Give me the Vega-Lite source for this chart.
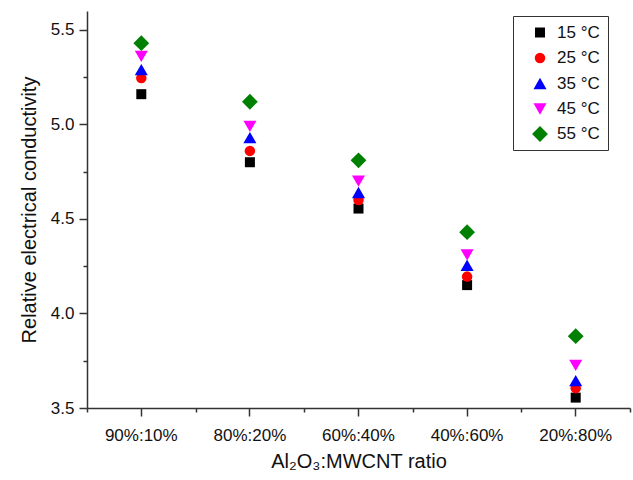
{
  "$schema": "https://vega.github.io/schema/vega-lite/v6.json",
  "width": 543,
  "height": 397,
  "autosize": "none",
  "padding": {"left": 87, "top": 11, "right": 3, "bottom": 72},
  "background": "white",
  "config": {
    "view": {"stroke": null},
    "font": "Liberation Sans",
    "axis": {"domainColor": "#333333", "tickColor": "#333333", "domainWidth": 1.5, "tickWidth": 1.5, "grid": false, "labelFont": "Liberation Sans", "titleFont": "Liberation Sans", "labelColor": "#111111", "titleColor": "#111111", "titleFontWeight": "normal", "labelFontSize": 17, "titleFontSize": 20}
  },
  "data": {
    "values": [
      {"ratio": "90%:10%", "temp": "15 °C", "value": 5.16},
      {"ratio": "90%:10%", "temp": "25 °C", "value": 5.245},
      {"ratio": "90%:10%", "temp": "35 °C", "value": 5.29},
      {"ratio": "90%:10%", "temp": "45 °C", "value": 5.36},
      {"ratio": "90%:10%", "temp": "55 °C", "value": 5.43},
      {"ratio": "80%:20%", "temp": "15 °C", "value": 4.80},
      {"ratio": "80%:20%", "temp": "25 °C", "value": 4.86},
      {"ratio": "80%:20%", "temp": "35 °C", "value": 4.93},
      {"ratio": "80%:20%", "temp": "45 °C", "value": 4.99},
      {"ratio": "80%:20%", "temp": "55 °C", "value": 5.12},
      {"ratio": "60%:40%", "temp": "15 °C", "value": 4.555},
      {"ratio": "60%:40%", "temp": "25 °C", "value": 4.60},
      {"ratio": "60%:40%", "temp": "35 °C", "value": 4.64},
      {"ratio": "60%:40%", "temp": "45 °C", "value": 4.70},
      {"ratio": "60%:40%", "temp": "55 °C", "value": 4.81},
      {"ratio": "40%:60%", "temp": "15 °C", "value": 4.15},
      {"ratio": "40%:60%", "temp": "25 °C", "value": 4.195},
      {"ratio": "40%:60%", "temp": "35 °C", "value": 4.255},
      {"ratio": "40%:60%", "temp": "45 °C", "value": 4.31},
      {"ratio": "40%:60%", "temp": "55 °C", "value": 4.43},
      {"ratio": "20%:80%", "temp": "15 °C", "value": 3.555},
      {"ratio": "20%:80%", "temp": "25 °C", "value": 3.605},
      {"ratio": "20%:80%", "temp": "35 °C", "value": 3.645},
      {"ratio": "20%:80%", "temp": "45 °C", "value": 3.725},
      {"ratio": "20%:80%", "temp": "55 °C", "value": 3.88}
    ]
  },
  "layer": [
    {
      "mark": {"type": "point", "opacity": 0},
      "encoding": {
        "x": {"field": "ratio", "type": "nominal", "sort": null,
              "scale": {"type": "band", "paddingInner": 0, "paddingOuter": 0},
              "axis": {"orient": "bottom", "tickBand": "extent", "labels": false, "title": null, "tickSize": 4, "domain": false}},
        "y": {"field": "value", "type": "quantitative", "scale": {"domain": [3.5, 5.6], "nice": false, "zero": false},
              "axis": {"orient": "left", "values": [3.75, 4.25, 4.75, 5.25], "labels": false, "title": null, "tickSize": 4, "domain": false}}
      }
    },
    {
      "mark": {"type": "point", "filled": true, "opacity": 1},
      "encoding": {
        "x": {"field": "ratio", "type": "nominal", "sort": null,
              "scale": {"type": "band", "paddingInner": 0, "paddingOuter": 0},
              "axis": {"orient": "bottom", "tickBand": "center", "labelAngle": 0, "tickSize": 8, "labelPadding": 11, "title": "Al₂O₃:MWCNT ratio", "titlePadding": 8}},
        "y": {"field": "value", "type": "quantitative", "scale": {"domain": [3.5, 5.6], "nice": false, "zero": false},
              "axis": {"orient": "left", "values": [3.5, 4.0, 4.5, 5.0, 5.5], "format": ".1f", "tickSize": 8, "labelPadding": 5, "title": "Relative electrical conductivity", "titlePadding": 11}},
        "color": {"field": "temp", "type": "nominal",
                  "scale": {"domain": ["15 °C", "25 °C", "35 °C", "45 °C", "55 °C"], "range": ["#000000", "#ff0000", "#0000ff", "#ff00ff", "#008000"]},
                  "legend": {"title": null, "orient": "none", "legendX": 426, "legendY": 5, "strokeColor": "#333333", "padding": 8, "rowPadding": 7.5, "labelFontSize": 17, "labelFont": "Liberation Sans", "labelColor": "#111111", "labelOffset": 8, "symbolOffset": 10}},
        "shape": {"field": "temp", "type": "nominal",
                  "scale": {"domain": ["15 °C", "25 °C", "35 °C", "45 °C", "55 °C"], "range": ["square", "circle", "triangle-up", "triangle-down", "diamond"]},
                  "legend": null},
        "size": {"field": "temp", "type": "nominal",
                 "scale": {"type": "ordinal", "domain": ["15 °C", "25 °C", "35 °C", "45 °C", "55 °C"], "range": [100, 110, 170, 170, 250]},
                 "legend": null}
      }
    }
  ],
  "resolve": {"axis": {"x": "independent", "y": "independent"}}
}
